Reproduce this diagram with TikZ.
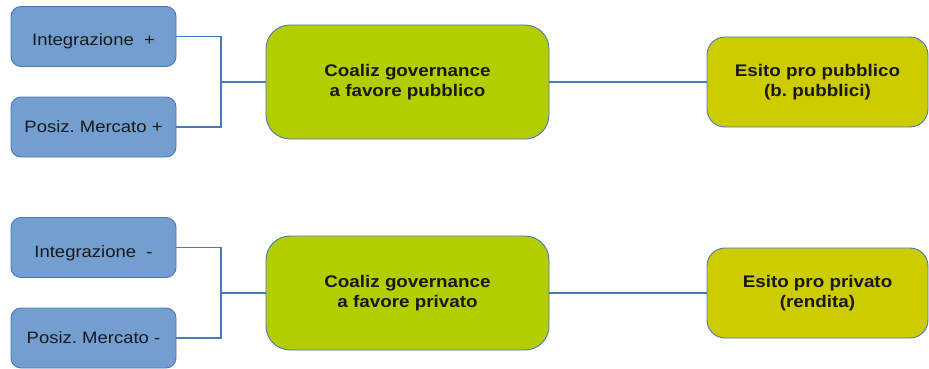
\documentclass[tikz,border=0pt]{standalone}
\usepackage{fontspec}
\setmainfont{Liberation Sans}[FakeStretch=1.12]
\usepackage{xcolor}
\usetikzlibrary{calc}
\frenchspacing

\definecolor{boxblue}{RGB}{114,159,207}
\definecolor{edgeblue}{RGB}{74,120,186}
\definecolor{coalgreen}{RGB}{178,206,0}
\definecolor{esitoyellow}{RGB}{204,204,0}

\begin{document}
\begin{tikzpicture}[x=1pt,y=-1pt,
    fattore/.style={draw=edgeblue,fill=boxblue,line width=0.9pt,rounded corners=10pt,
        minimum width=165pt,minimum height=60pt,align=center,
        font=\fontsize{16.5}{19}\selectfont,text=black!90},
    basso/.style={text height=20pt,text depth=1pt},
    coaliz/.style={draw=edgeblue,fill=coalgreen,line width=0.9pt,rounded corners=24pt,
        minimum width=283pt,minimum height=114pt,align=center,
        font=\fontsize{16.8}{19.5}\selectfont\bfseries,text=black!90},
    esito/.style={draw=edgeblue,fill=esitoyellow,line width=0.9pt,rounded corners=18pt,
        minimum width=221pt,minimum height=90pt,align=center,
        font=\fontsize{16.8}{19.5}\selectfont\bfseries,text=black!90},
    link/.style={draw=edgeblue,line width=1.1pt}]
    \useasboundingbox (0,0) rectangle (929,369);

    % pubblico
    \node[fattore,basso] (intp) at (93.5,36.5) {Integrazione~ +};
    \node[fattore] (posp) at (93.5,127) {Posiz. Mercato +};
    \node[coaliz] (coalp) at (407.5,82) {Coaliz governance\\a favore pubblico};
    \node[esito] (esitop) at (817.5,82) {Esito pro pubblico\\(b. pubblici)};
    \coordinate (jp) at (221,82);

    \draw[link] (intp.east) -| (jp);
    \draw[link] (posp.east) -| (jp);
    \draw[link] (jp) -- (coalp.west);
    \draw[link] (coalp.east) -- (esitop.west);

    % privato
    \node[fattore,basso] (intr) at (93.5,247.5) {Integrazione~ -};
    \node[fattore] (posr) at (93.5,338) {Posiz. Mercato -};
    \node[coaliz] (coalr) at (407.5,293) {Coaliz governance\\a favore privato};
    \node[esito] (esitor) at (817.5,293) {Esito pro privato\\(rendita)};
    \coordinate (jr) at (221,293);

    \draw[link] (intr.east) -| (jr);
    \draw[link] (posr.east) -| (jr);
    \draw[link] (jr) -- (coalr.west);
    \draw[link] (coalr.east) -- (esitor.west);
\end{tikzpicture}
\end{document}
